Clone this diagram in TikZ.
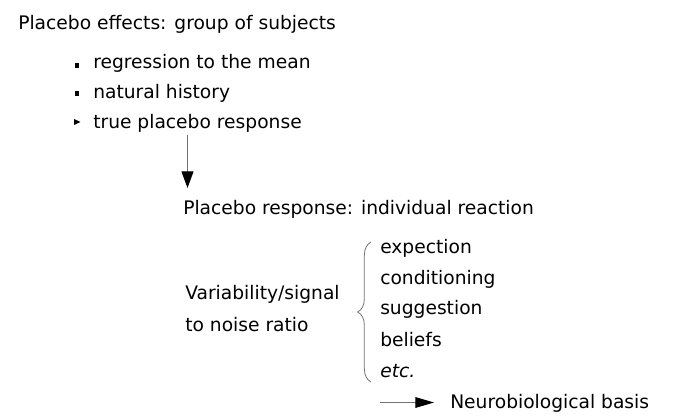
\documentclass[tikz,border=0pt]{standalone}
\usepackage{fontspec}
\setmainfont{DejaVu Sans}
\usetikzlibrary{arrows.meta,decorations.pathreplacing}

\begin{document}
\begin{tikzpicture}[x=0.75pt,y=-0.75pt,
  every node/.style={font=\fontsize{14}{17}\selectfont,inner sep=0pt,anchor=base west},
  sq bullet/.style={rectangle,fill=black,minimum size=3.6pt,anchor=center},
  link/.style={-{Triangle[length=12.5pt,width=9pt,color=black]},line width=0.75pt,black!55}]

  \useasboundingbox (0,0) rectangle (678,420);

  \node (title) at (18,30) {Placebo effects: group of subjects};
  \node (mean) at (93,69) {regression to the mean};
  \node (history) at (93,99) {natural history};
  \node (true) at (93,129) {true placebo response};
  \node[sq bullet] (b1) at (77,65.5) {};
  \node[sq bullet] (b2) at (77,93.5) {};
  \fill (74,119) -- (80.5,122) -- (74,125) -- cycle;

  \coordinate (down top) at (187.5,135);
  \coordinate (down tip) at (187.5,188);
  \draw[link] (down top) -- (down tip);

  \node (response) at (183,215) {Placebo response: individual reaction};

  \node (var) at (185,300) {Variability/signal};
  \node (noise) at (185,331) {to noise ratio};

  \node (expect) at (380,254) {expection};
  \node (cond) at (380,285) {conditioning};
  \node (sugg) at (380,315) {suggestion};
  \node (belief) at (380,346) {beliefs};
  \node (etc) at (380,377) {\itshape etc.};

  % brace round the list
  \draw[black!55,line width=0.6pt,decorate,decoration={brace,amplitude=10pt}]
    (371,382) -- (371,242);

  \coordinate (base arrow) at (380,402.5);
  \coordinate (base tip) at (434,402.5);
  \node (basis) at (450,408) {Neurobiological basis};
  \draw[link,-{Triangle[length=14pt,width=8pt,color=black]}] (base arrow) -- (base tip);
\end{tikzpicture}
\end{document}
